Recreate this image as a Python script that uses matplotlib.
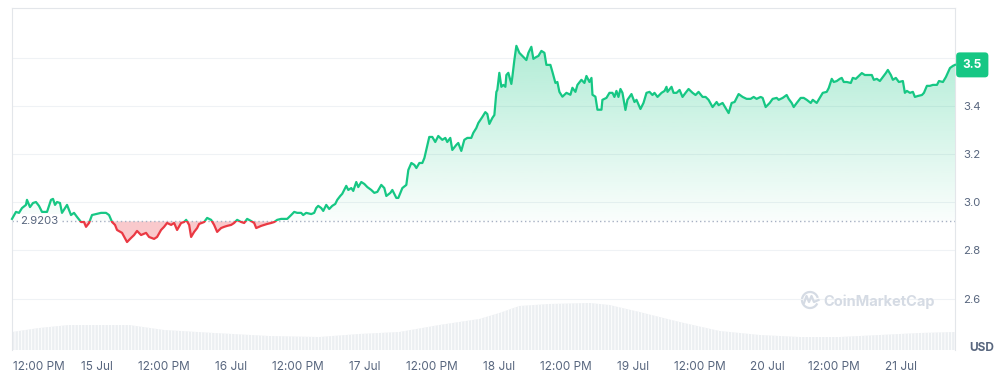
import numpy as np
import matplotlib
matplotlib.use('Agg')
import matplotlib.pyplot as plt
from matplotlib.patches import PathPatch, Rectangle, Arc
from matplotlib.path import Path
from matplotlib.colors import to_rgb
from matplotlib.transforms import blended_transform_factory, IdentityTransform

# hours counted from 14 Jul 00:00
hours = [8.87, 9.58, 10.12, 10.66, 11.37, 11.55, 12.09, 12.63, 13.16, 13.70, 14.24, 15.14, 15.85, 16.21,
         16.57, 16.93, 17.46, 17.82, 18.36, 18.72, 19.43, 19.97, 20.51, 21.23, 21.76, 22.12, 22.66, 23.19,
         23.91, 24.81, 25.70, 26.24, 26.78, 27.31, 27.67, 28.57, 29.46, 30.18, 30.72, 31.25, 31.97, 32.87,
         33.40, 34.30, 34.84, 35.55, 36.09, 36.63, 37.35, 37.89, 38.42, 39.14, 39.68, 40.04, 40.58, 40.93,
         41.47, 42.01, 42.36, 43.26, 43.80, 44.51, 45.05, 45.59, 46.30, 46.84, 47.38, 48.10, 48.63, 49.17,
         49.89, 50.43, 50.96, 51.68, 52.22, 52.58, 53.47, 54.01, 54.55, 55.26, 55.80, 56.34, 57.05, 57.59,
         58.13, 58.84, 59.38, 59.92, 60.63, 60.99, 61.53, 62.43, 62.96, 63.32, 63.68, 64.22, 64.58, 65.12,
         65.65, 66.19, 66.73, 67.09, 67.62, 67.98, 68.70, 69.06, 69.60, 69.95, 70.49, 70.85, 71.39, 71.93,
         72.47, 73.18, 73.72, 74.26, 74.97, 75.51, 75.87, 76.59, 76.95, 77.66, 78.02, 78.74, 79.45, 79.81,
         80.35, 80.89, 81.25, 81.79, 82.32, 82.69, 83.56, 84.10, 84.63, 85.17, 85.89, 86.43, 86.78, 87.32,
         87.68, 88.40, 88.75, 89.29, 89.83, 90.37, 91.08, 91.44, 91.98, 92.34, 93.06, 93.59, 93.95, 94.31,
         94.85, 95.21, 95.57, 95.74, 96.10, 96.46, 96.82, 97.18, 97.36, 97.71, 98.25, 98.43, 98.79, 99.15,
         99.68, 100.40, 100.94, 101.30, 101.83, 102.19, 102.73, 103.09, 103.63, 104.17, 104.52, 105.24,
         105.60, 106.14, 106.49, 106.85, 107.39, 107.75, 108.11, 108.82, 109.18, 109.72, 110.08, 110.79,
         111.33, 111.69, 112.23, 112.59, 112.77, 113.30, 113.66, 114.38, 114.55, 115.27, 115.81, 116.35,
         116.70, 117.06, 117.42, 117.78, 118.14, 118.67, 119.03, 119.75, 120.29, 120.65, 121.36, 121.90,
         122.44, 122.98, 123.51, 123.87, 124.41, 125.13, 125.67, 126.02, 126.20, 126.92, 127.28, 127.82,
         128.36, 128.89, 129.43, 129.97, 130.69, 131.22, 131.76, 132.48, 133.02, 133.55, 134.27, 134.99,
         135.35, 136.06, 136.60, 137.14, 137.68, 138.21, 138.93, 139.65, 140.36, 141.08, 141.62, 142.15,
         142.87, 143.23, 143.77, 144.49, 145.02, 145.74, 146.10, 146.82, 147.53, 147.89, 148.43, 148.79,
         149.33, 150.04, 150.58, 151.12, 151.84, 152.20, 152.91, 153.45, 153.99, 154.70, 155.06, 155.60,
         155.96, 156.50, 157.03, 157.39, 157.75, 158.29, 159.01, 159.36, 159.90, 160.26, 160.98, 161.52,
         162.06, 162.77, 163.13, 163.67, 164.21, 164.75, 165.28, 165.64, 166.18, 166.54, 167.07, 167.61,
         168.33, 168.69, 169.05, 169.59, 170.12, 170.48, 171.02, 171.74, 172.10, 172.63, 173.17, 173.71,
         174.43, 174.79, 175.50, 176.04, 176.76, 177.30, 177.66]
price = [2.931, 2.960, 2.956, 2.976, 2.989, 3.010, 2.980, 2.997, 3.001, 2.985, 2.960, 2.960, 3.010, 3.014,
         2.989, 3.001, 2.997, 2.956, 2.976, 2.989, 2.947, 2.956, 2.939, 2.918, 2.918, 2.898, 2.914, 2.947,
         2.951, 2.956, 2.956, 2.947, 2.918, 2.906, 2.885, 2.873, 2.835, 2.852, 2.864, 2.881, 2.864, 2.873,
         2.856, 2.848, 2.856, 2.885, 2.898, 2.914, 2.906, 2.914, 2.885, 2.914, 2.918, 2.927, 2.906, 2.856,
         2.877, 2.893, 2.910, 2.918, 2.935, 2.927, 2.906, 2.877, 2.893, 2.898, 2.902, 2.906, 2.914, 2.927,
         2.918, 2.914, 2.931, 2.922, 2.914, 2.893, 2.902, 2.906, 2.910, 2.914, 2.918, 2.927, 2.931, 2.931,
         2.931, 2.947, 2.960, 2.956, 2.956, 2.947, 2.956, 2.951, 2.956, 2.976, 2.985, 2.976, 2.964, 2.989,
         2.972, 2.985, 2.993, 3.010, 3.026, 3.035, 3.068, 3.051, 3.059, 3.047, 3.084, 3.063, 3.084, 3.076,
         3.063, 3.051, 3.039, 3.043, 3.072, 3.059, 3.026, 3.039, 3.051, 3.018, 3.018, 3.059, 3.072, 3.134,
         3.163, 3.155, 3.142, 3.163, 3.163, 3.184, 3.271, 3.271, 3.250, 3.275, 3.259, 3.267, 3.250, 3.267,
         3.217, 3.238, 3.246, 3.213, 3.259, 3.267, 3.267, 3.288, 3.308, 3.329, 3.354, 3.374, 3.366, 3.325,
         3.350, 3.362, 3.458, 3.466, 3.537, 3.479, 3.487, 3.479, 3.528, 3.537, 3.491, 3.520, 3.590, 3.649,
         3.620, 3.603, 3.590, 3.620, 3.645, 3.595, 3.603, 3.607, 3.628, 3.620, 3.570, 3.570,
         3.541, 3.495, 3.499, 3.458, 3.438, 3.446, 3.454, 3.446, 3.475, 3.458, 3.487, 3.508,
         3.495, 3.524, 3.499, 3.516, 3.446, 3.438, 3.384, 3.384, 3.425, 3.433, 3.454, 3.454,
         3.437, 3.462, 3.437, 3.470, 3.454, 3.383, 3.425, 3.449, 3.416, 3.425, 3.387, 3.412,
         3.454, 3.458, 3.445, 3.454, 3.437, 3.454, 3.462, 3.479, 3.458, 3.479, 3.454, 3.454,
         3.466, 3.437, 3.454, 3.470, 3.454, 3.445, 3.458, 3.437, 3.437, 3.425, 3.395, 3.416,
         3.403, 3.412, 3.391, 3.370, 3.412, 3.416, 3.449, 3.437, 3.429, 3.429, 3.437, 3.429,
         3.437, 3.433, 3.395, 3.412, 3.429, 3.433, 3.425, 3.433, 3.445, 3.429, 3.412, 3.395,
         3.412, 3.433, 3.433, 3.425, 3.412, 3.425, 3.412, 3.433, 3.454, 3.458, 3.474, 3.512,
         3.499, 3.503, 3.512, 3.516, 3.499, 3.499, 3.495, 3.516, 3.512, 3.520, 3.536, 3.528,
         3.528, 3.528, 3.508, 3.512, 3.503, 3.520, 3.536, 3.549, 3.528, 3.508, 3.516, 3.499,
         3.503, 3.454, 3.462, 3.454, 3.458, 3.437, 3.441, 3.445, 3.454, 3.483, 3.483, 3.487,
         3.487, 3.503, 3.499, 3.520, 3.557, 3.566, 3.570]

vol_hours = [8.87, 13.70, 19.08, 29.82, 36.09, 45.05, 54.90, 63.86, 71.03, 78.19, 85.35, 92.51, 96.10,
             99.68, 105.05, 112.23, 115.81, 121.18, 128.36, 135.53, 142.70, 149.86, 157.03, 164.21,
             171.38, 177.66]
volume = [18, 22, 25, 25, 20, 17, 14, 13, 16, 18, 25, 31, 37, 44, 46, 47, 45, 38, 28, 19, 15, 13, 13, 15,
          17, 18]

base_price = 2.9203
last_tag = '3.5'
tick_hours = [12, 24, 36, 48, 60, 72, 84, 96, 108, 120, 132, 144, 156, 168]
tick_labels = ['12:00 PM', '15 Jul', '12:00 PM', '16 Jul', '12:00 PM', '17 Jul', '12:00 PM', '18 Jul',
               '12:00 PM', '19 Jul', '12:00 PM', '20 Jul', '12:00 PM', '21 Jul']
y_ticks = [2.6, 2.8, 3.0, 3.2, 3.4, 3.6]
y_labels = ['2.6', '2.8', '3.0', '3.2', '3.4', '']

GREEN = '#16c784'
RED = '#ea3943'
GREY = '#58667e'
plt.rcParams['font.family'] = ['Inter', 'DejaVu Sans']
plt.rcParams['hatch.linewidth'] = 0.7

fig = plt.figure(figsize=(10.05, 3.74), dpi=100)
ax = fig.add_axes([12/1005, 24/374, 943/1005, 342/374])
t = np.array(hours); p = np.array(price)

# volume on its own scale underneath
ax2 = ax.twinx()
ax2.fill_between(vol_hours, 0, volume, facecolor='#eceff2', edgecolor='white', hatch='|||||', lw=0)
ax2.set_ylim(0, 342); ax2.set_yticks([])
for s in ax2.spines.values(): s.set_visible(False)
ax.set_zorder(ax2.get_zorder() + 1); ax.patch.set_visible(False)

# green gradient area above the open price
up = ax.fill_between(t, p, base_price, where=p >= base_price, interpolate=True, facecolor='none', edgecolor='none')
clip = PathPatch(Path.make_compound_path(*up.get_paths()), transform=ax.transData, facecolor='none', edgecolor='none')
ax.add_patch(clip)
grad = np.zeros((256, 1, 4))
grad[..., :3] = to_rgb(GREEN)
grad[:, 0, 3] = np.linspace(0.34, 0.02, 256)
im = ax.imshow(grad, extent=[t[0], t[-1], base_price, 3.66], aspect='auto', origin='upper', zorder=1, interpolation='bilinear')
im.set_clip_path(clip)
ax.fill_between(t, p, base_price, where=p <= base_price, interpolate=True, color=RED, alpha=0.27, lw=0, zorder=1)

for col, rect in [(GREEN, Rectangle((t[0] - 5, base_price), 200, 5)),
                  (RED, Rectangle((t[0] - 5, base_price - 5), 200, 5))]:
    ln, = ax.plot(t, p, color=col, lw=1.6, zorder=4, solid_joinstyle='round')
    rect.set_transform(ax.transData)
    ln.set_clip_path(rect)

ax.axhline(base_price, color='#a6b0c3', lw=1, ls=(0, (1, 2)), zorder=2)
bt = blended_transform_factory(ax.transAxes, ax.transData)
ax.text(8/943, base_price, f'{base_price:.4f}', transform=bt, ha='left', va='center', fontsize=8.2, color=GREY,
        bbox=dict(fc='white', ec='none', pad=1.5), zorder=3)

ax.set_xlim(t[0], t[-1]); ax.set_ylim(2.387, 3.806)
ax.set_yticks(y_ticks, y_labels)
ax.yaxis.tick_right()
ax.tick_params(axis='y', length=0, pad=6, labelsize=8.2, labelcolor=GREY)
ax.set_xticks([])
ax.grid(axis='y', color='#eff2f5', lw=0.8); ax.set_axisbelow(True)
for s in ['left', 'right', 'top']: ax.spines[s].set_color('#e3e6ea'); ax.spines[s].set_linewidth(0.8)
ax.spines['bottom'].set_visible(False)

xt = blended_transform_factory(ax.transData, ax.transAxes)
for i, (h, lab) in enumerate(zip(tick_hours, tick_labels)):
    if i == 0:
        ax.text(1/943, -0.05, lab, transform=ax.transAxes, ha='left', va='center', fontsize=8.5, color=GREY)
    else:
        ax.text(h, -0.05, lab, transform=xt, ha='center', va='center', fontsize=8.5, color=GREY)

ax.annotate(last_tag, xy=(1, p[-1]), xycoords=('axes fraction', 'data'), xytext=(5.5, 0), textcoords='offset points',
            ha='left', va='center', fontsize=8.5, fontweight='bold', color='white', annotation_clip=False,
            bbox=dict(boxstyle='round,pad=0.55,rounding_size=0.3', fc=GREEN, ec='none'))
ax.text(1 + 14/943, 2/342, 'USD', transform=ax.transAxes, ha='left', va='center', fontsize=8.5,
        fontweight='bold', color=GREY)

# watermark
fig.text(823/1005, 1 - 302/374, 'CoinMarketCap', ha='left', va='center', fontsize=10.5, fontweight='bold', color='#d5dbe4')
fig.add_artist(Arc((810, 74), 16, 16, theta1=15, theta2=335, transform=IdentityTransform(), color='#d5dbe4', lw=1.6))
fig.add_artist(plt.Line2D([804, 806.5, 809, 811.5, 814, 818.5], [71, 78, 72, 78, 72, 74], transform=IdentityTransform(),
                          color='#d5dbe4', lw=1.6))

fig.savefig('out.png', dpi=100)
